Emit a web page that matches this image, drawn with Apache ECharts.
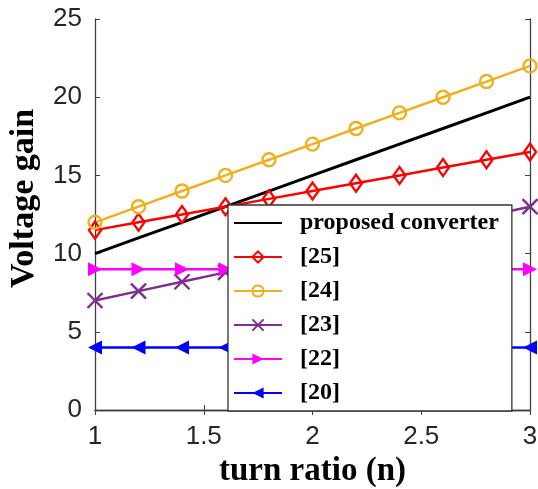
<!DOCTYPE html>
<html>
<head>
<meta charset="utf-8">
<script src="https://cdn.jsdelivr.net/npm/echarts@6/dist/echarts.min.js"></script>
<style>html,body{margin:0;padding:0;background:#fff;}#c{width:538px;height:489px;}</style>
</head>
<body>
<div id="c"></div>
<script>
const turnRatio = [1, 1.2, 1.4, 1.6, 1.8, 2, 2.2, 2.4, 2.6, 2.8, 3];
const proposed = [10, 11, 12, 13, 14, 15, 16, 17, 18, 19, 20];
const ref25 = [11.5, 12, 12.5, 13, 13.5, 14, 14.5, 15, 15.5, 16, 16.5];
const ref24 = [12, 13, 14, 15, 16, 17, 18, 19, 20, 21, 22];
const ref23 = [7, 7.6, 8.2, 8.8, 9.4, 10, 10.6, 11.2, 11.8, 12.4, 13];
const ref22 = [9, 9, 9, 9, 9, 9, 9, 9, 9, 9, 9];
const ref20 = [4, 4, 4, 4, 4, 4, 4, 4, 4, 4, 4];
const seriesNames = ['proposed converter', '[25]', '[24]', '[23]', '[22]', '[20]'];
const xTicks = [1, 1.5, 2, 2.5, 3];
const yTicks = [0, 5, 10, 15, 20, 25];

const pairs = ys => turnRatio.map((x, i) => [x, ys[i]]);
const hollow = c => ({color: 'rgba(0,0,0,0)', borderColor: c, borderWidth: 2.4});

const chart = echarts.init(document.getElementById('c'), null, {renderer: 'canvas'});
const axisCommon = {
  axisLine: {show: true, lineStyle: {color: '#404040', width: 1.3}},
  axisTick: {show: true, inside: true, length: 5, lineStyle: {color: '#404040', width: 1}},
  splitLine: {show: false}
};
chart.setOption({
  animation: false,
  backgroundColor: '#fff',
  grid: {left: 95, right: 8, top: 19, bottom: 79, containLabel: false, outerBoundsMode: 'none'},
  xAxis: [
    Object.assign({
      type: 'value', min: 1, max: 3, interval: 0.5, position: 'bottom',
      name: 'turn ratio (n)', nameLocation: 'middle', nameGap: 43,
      nameTextStyle: {fontFamily: 'Liberation Serif', fontWeight: 'bold', fontSize: 33, color: '#000'},
      axisLabel: {fontFamily: 'Liberation Sans', fontSize: 26, color: '#262626', margin: 14,
        formatter: v => String(xTicks.find(t => Math.abs(t - v) < 1e-9) ?? v)}
    }, axisCommon),
    Object.assign({
      type: 'value', min: 1, max: 3, interval: 0.5, position: 'top',
      axisLabel: {show: false}
    }, axisCommon)
  ],
  yAxis: [
    Object.assign({
      type: 'value', min: 0, max: 25, interval: 5, position: 'left',
      name: 'Voltage gain', nameLocation: 'middle', nameGap: 54, nameRotate: 90,
      nameTextStyle: {fontFamily: 'Liberation Serif', fontWeight: 'bold', fontSize: 34, color: '#000', padding: [0, 0, 0, 32]},
      axisLabel: {fontFamily: 'Liberation Sans', fontSize: 26, color: '#262626', margin: 13,
        formatter: v => String(yTicks.find(t => t === v) ?? v)}
    }, axisCommon),
    Object.assign({
      type: 'value', min: 0, max: 25, interval: 5, position: 'right',
      axisLabel: {show: false}
    }, axisCommon)
  ],
  legend: {
    left: 228, top: 205,
    orient: 'vertical',
    backgroundColor: '#fff',
    borderColor: '#333', borderWidth: 1.3,
    padding: [6, 13, 6, 5],
    itemWidth: 48, itemHeight: 14, itemGap: 10,
    textStyle: {fontFamily: 'Liberation Serif', fontWeight: 'bold', fontSize: 24, color: '#000', padding: [0, 0, 0, 13]},
    data: seriesNames.map((n, i) => i === 0 ? {name: n, itemStyle: {opacity: 0}} : {name: n})
  },
  series: [
    {name: seriesNames[0], type: 'line', data: pairs(proposed), symbol: 'none',
      lineStyle: {color: '#000', width: 3}, itemStyle: {color: '#000'}, z: 3},
    {name: seriesNames[1], type: 'line', data: pairs(ref25), symbol: 'diamond', symbolSize: [12, 17],
      lineStyle: {color: '#ff0000', width: 2.5}, itemStyle: hollow('#ff0000')},
    {name: seriesNames[2], type: 'line', data: pairs(ref24), symbol: 'circle', symbolSize: [13, 13],
      lineStyle: {color: '#edb120', width: 2.5}, itemStyle: hollow('#edb120')},
    {name: seriesNames[3], type: 'line', data: pairs(ref23), symbol: 'path://M0,0L10,10M10,0L0,10', symbolSize: 15,
      lineStyle: {color: '#7e2f8e', width: 2.5}, itemStyle: hollow('#7e2f8e')},
    {name: seriesNames[4], type: 'line', data: pairs(ref22), symbol: 'triangle', symbolSize: 14, symbolRotate: -90,
      lineStyle: {color: '#ff00ff', width: 2.5}, itemStyle: {color: '#ff00ff'}},
    {name: seriesNames[5], type: 'line', data: pairs(ref20), symbol: 'triangle', symbolSize: 14, symbolRotate: 90,
      lineStyle: {color: '#0000ff', width: 2.5}, itemStyle: {color: '#0000ff'}}
  ]
});
</script>
</body>
</html>
